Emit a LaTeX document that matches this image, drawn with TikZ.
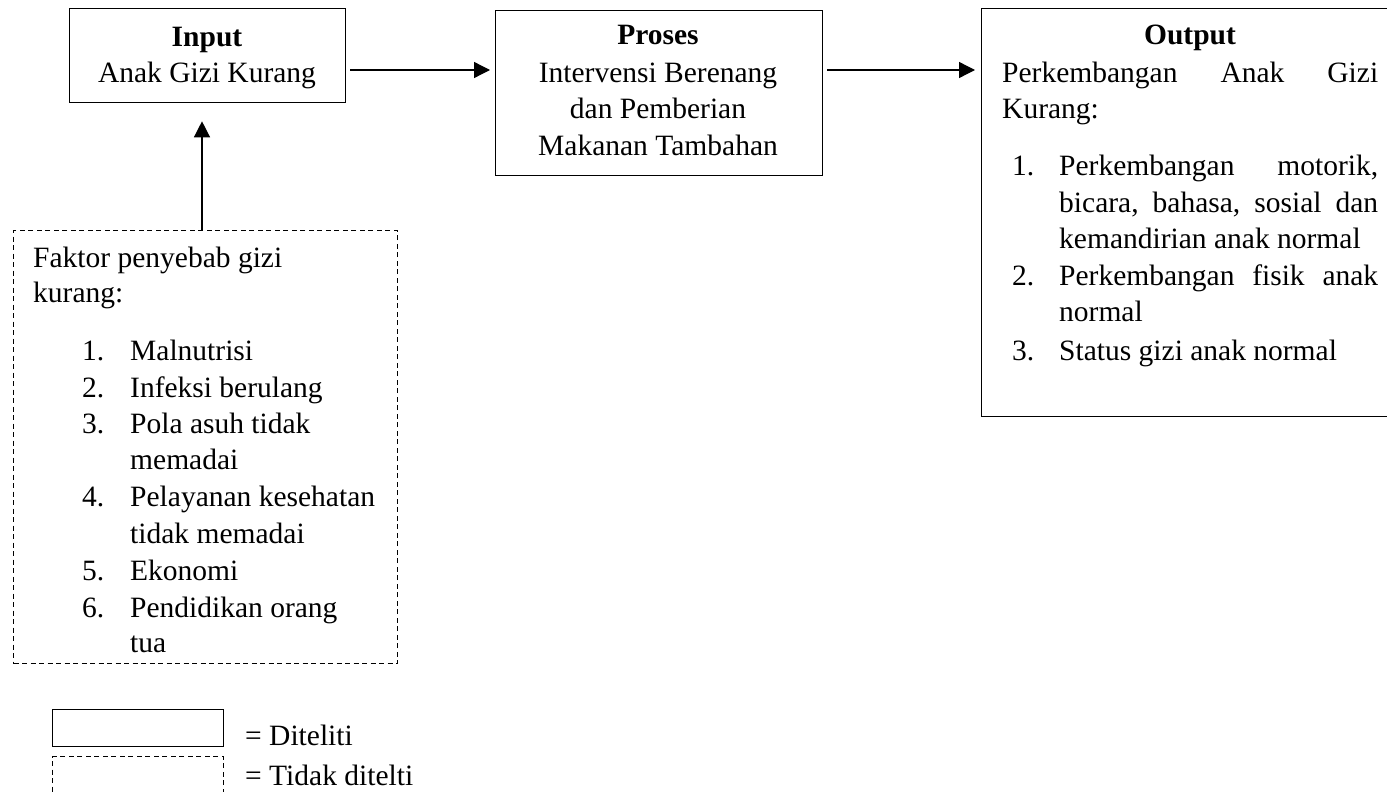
\documentclass[tikz,border=0pt]{standalone}
\usepackage{fontspec}
\setmainfont{Liberation Serif}
\usetikzlibrary{arrows.meta}
\begin{document}
\begin{tikzpicture}[x=1pt,y=-1pt,
  box/.style={draw, line width=1.3pt, rectangle, inner sep=0pt, anchor=north west},
  dbox/.style={box, dash pattern=on 5pt off 3.5pt},
  txt/.style={inner sep=0pt, font=\fontsize{29.5}{37}\selectfont},
  arr/.style={line width=1.3pt, -{Triangle[length=16pt,width=16pt]}}]
\clip (0,0) rectangle (1387,792);
\fill[white] (0,0) rectangle (1387,792);
% boxes
\node[box, minimum width=276pt, minimum height=94pt] (input) at (69,8) {};
\node[box, minimum width=327pt, minimum height=165pt] (proses) at (495,10) {};
\node[box, minimum width=430pt, minimum height=408pt] (output) at (981,8) {};
\node[dbox, minimum width=384pt, minimum height=433pt] (faktor) at (13,230) {};
\node[box, minimum width=171pt, minimum height=37pt] (legA) at (52,709) {};
\node[dbox, minimum width=171pt, minimum height=36pt] (legB) at (52,756) {};
% input text
\node[txt, anchor=base] (inT) at (207,47) {\bfseries Input};
\node[txt, anchor=base] (inB) at (207,82) {Anak Gizi Kurang};
% proses text
\node[txt, anchor=base] (prT) at (658,45) {\bfseries Proses};
\node[txt, anchor=base] (pr1) at (658,82) {Intervensi Berenang};
\node[txt, anchor=base] (pr2) at (658,118) {dan Pemberian};
\node[txt, anchor=base] (pr3) at (658,155) {Makanan Tambahan};
% output text
\node[txt, anchor=base] (ouT) at (1190,45) {\bfseries Output};
\node[txt, anchor=base west] (ou1) at (1002,82) {\hbox to 376pt{Perkembangan\hfill Anak\hfill Gizi}};
\node[txt, anchor=base west] (ou2) at (1002,118) {Kurang:};
\node[txt, anchor=base west] (on1) at (1012,175) {1.};
\node[txt, anchor=base west] (ol1) at (1059,175) {\hbox to 319pt{Perkembangan\hfill motorik,}};
\node[txt, anchor=base west] (ol2) at (1059,212) {\hbox to 319pt{bicara,\hfill bahasa,\hfill sosial\hfill dan}};
\node[txt, anchor=base west] (ol3) at (1059,248) {kemandirian anak normal};
\node[txt, anchor=base west] (on2) at (1012,285) {2.};
\node[txt, anchor=base west] (ol4) at (1059,285) {\hbox to 319pt{Perkembangan\hfill fisik\hfill anak}};
\node[txt, anchor=base west] (ol5) at (1059,321) {normal};
\node[txt, anchor=base west] (on3) at (1012,360) {3.};
\node[txt, anchor=base west] (ol6) at (1059,360) {Status gizi anak normal};
% faktor text
\node[txt, anchor=base west] (fk1) at (33,267) {Faktor penyebab gizi};
\node[txt, anchor=base west] (fk2) at (33,302) {kurang:};
\node[txt, anchor=base west] (fn1) at (82,360) {1.};
\node[txt, anchor=base west] (fl1) at (130,360) {Malnutrisi};
\node[txt, anchor=base west] (fn2) at (82,397) {2.};
\node[txt, anchor=base west] (fl2) at (130,397) {Infeksi berulang};
\node[txt, anchor=base west] (fn3) at (82,433) {3.};
\node[txt, anchor=base west] (fl3) at (130,433) {Pola asuh tidak};
\node[txt, anchor=base west] (fl3b) at (130,469) {memadai};
\node[txt, anchor=base west] (fn4) at (82,506) {4.};
\node[txt, anchor=base west] (fl4) at (130,506) {Pelayanan kesehatan};
\node[txt, anchor=base west] (fl4b) at (130,543) {tidak memadai};
\node[txt, anchor=base west] (fn5) at (82,580) {5.};
\node[txt, anchor=base west] (fl5) at (130,580) {Ekonomi};
\node[txt, anchor=base west] (fn6) at (82,617) {6.};
\node[txt, anchor=base west] (fl6) at (130,617) {Pendidikan orang};
\node[txt, anchor=base west] (fl6b) at (130,652) {tua};
% legend text
\node[txt, anchor=base west] (lgA) at (245,745) {= Diteliti};
\node[txt, anchor=base west] (lgB) at (245,785) {= Tidak ditelti};
% connectors
\coordinate (row) at (0,70);
\coordinate (col) at (202,0);
\draw[arr, shorten <=4pt, shorten >=5pt] (input.east |- row) -- (proses.west |- row);
\draw[arr, shorten <=4pt, shorten >=6pt] (proses.east |- row) -- (output.west |- row);
\draw[arr, shorten >=18pt] (faktor.north -| col) -- (input.south -| col);
\end{tikzpicture}
\end{document}
